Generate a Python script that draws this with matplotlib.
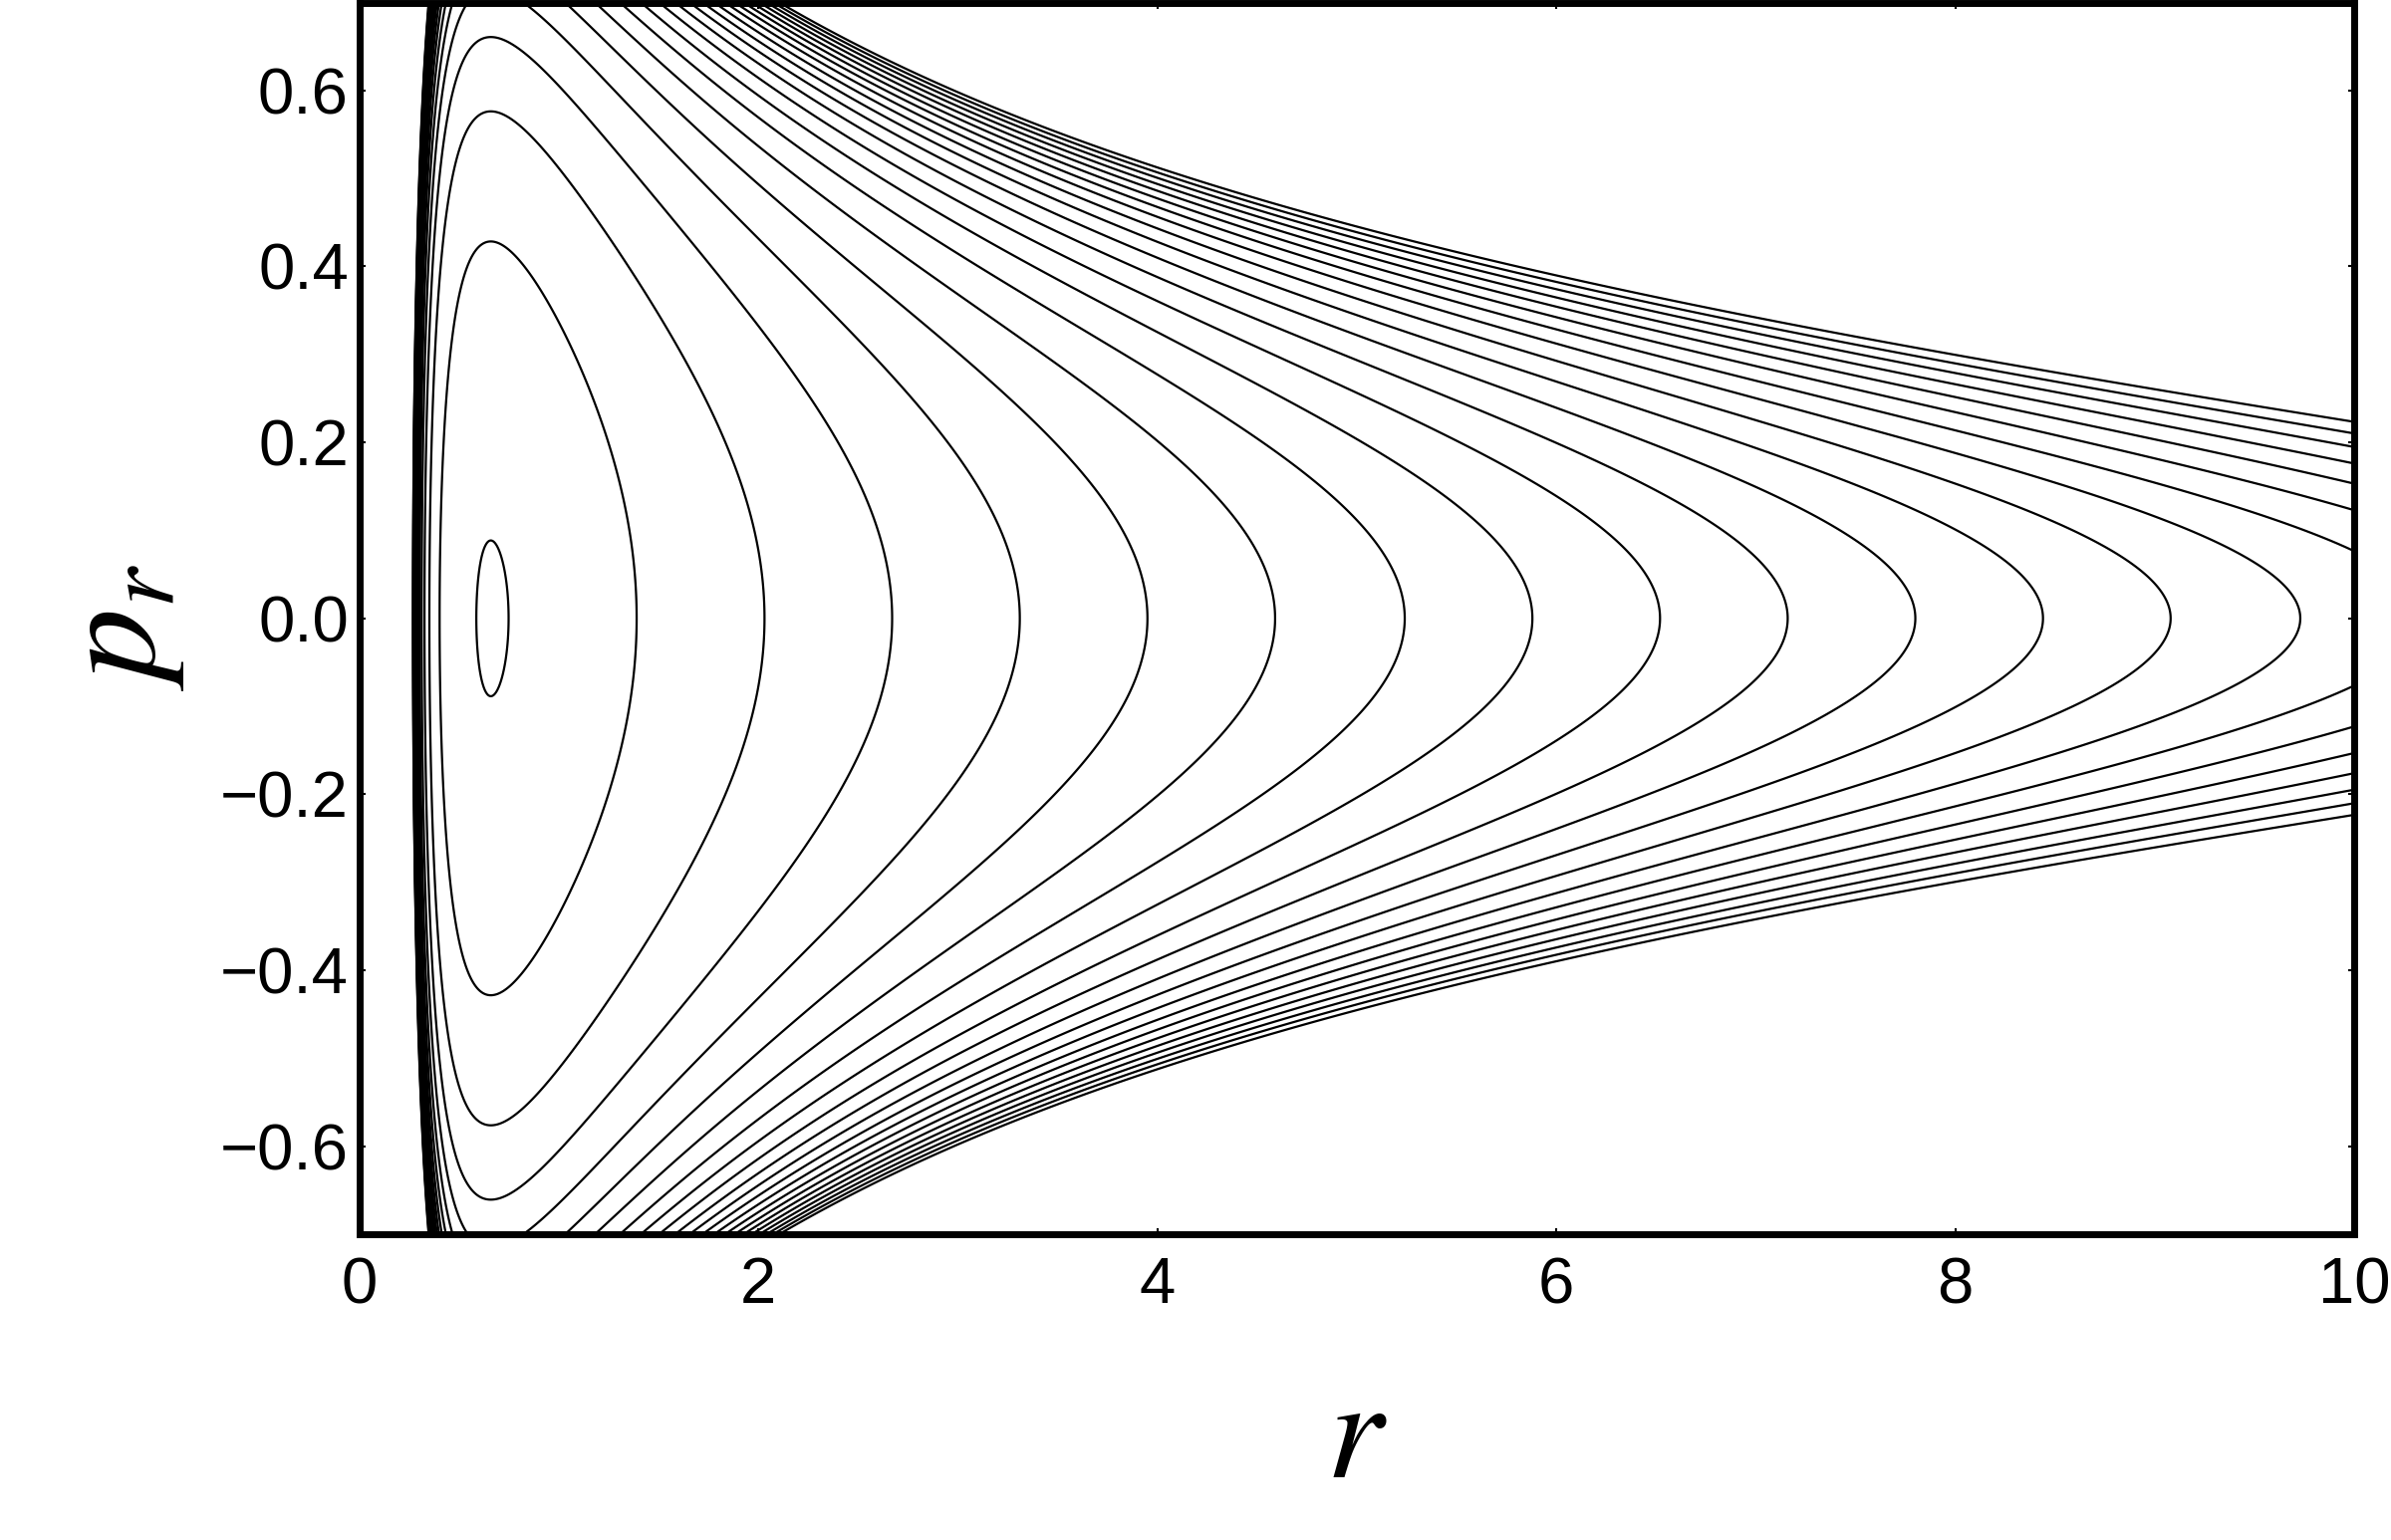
import numpy as np
import matplotlib
matplotlib.use("Agg")
import matplotlib.pyplot as plt

# ---------------- data ----------------
# radii where each contour crosses p_r = 0 (outer turning point)
turning_radii = [0.747, 1.389, 2.03, 2.67, 3.31, 3.95, 4.59, 5.24, 5.88,
                 6.52, 7.16, 7.80, 8.44, 9.08, 9.73, 10.37, 11.01, 11.65,
                 12.29, 12.94, 13.58, 14.22]
# parameters of the effective Hamiltonian H = p^2/2 + L2/(2 r^2) - K/(r + S)
L2 = 0.1036
K = 1.0
S = 1.0

x_ticks = [0, 2, 4, 6, 8, 10]
x_tick_labels = ["0", "2", "4", "6", "8", "10"]
y_ticks = [-0.6, -0.4, -0.2, 0.0, 0.2, 0.4, 0.6]
y_tick_labels = ["\u22120.6", "\u22120.4", "\u22120.2", "0.0", "0.2", "0.4", "0.6"]
x_range = (0, 10)
y_range = (-0.7, 0.7)


def hamiltonian(r, p):
    return 0.5 * p ** 2 + 0.5 * L2 / r ** 2 - K / (r + S)


plt.rcParams["mathtext.fontset"] = "stix"
plt.rcParams["font.family"] = ["Liberation Sans", "DejaVu Sans"]
plt.rcParams["contour.negative_linestyle"] = "solid"

fig = plt.figure(figsize=(24, 15.46), dpi=100)
ax = fig.add_axes([0.1504, 0.19858, 0.83418, 0.7998])

r = np.concatenate([np.linspace(0.15, 1.2, 2600), np.linspace(1.2, 10.1, 2400)[1:]])
p = np.linspace(-0.75, 0.75, 1600)
R, P = np.meshgrid(r, p)
Z = hamiltonian(R, P)
levels = np.sort(hamiltonian(np.array(turning_radii), 0.0))
ax.contour(R, P, Z, levels=levels, colors="black", linewidths=1.6,
           linestyles="solid")

ax.set_xlim(*x_range)
ax.set_ylim(*y_range)
ax.set_xticks(x_ticks)
ax.set_xticklabels(x_tick_labels)
ax.set_yticks(y_ticks)
ax.set_yticklabels(y_tick_labels)
ax.tick_params(axis="both", direction="in", length=4, width=1.5,
               top=True, right=True, labelsize=47)
ax.tick_params(axis="x", pad=16)
ax.tick_params(axis="y", pad=8)
for sp in ax.spines.values():
    sp.set_linewidth(5)

ax.set_xlabel("$r$", fontsize=104, va="center")
ax.xaxis.set_label_coords(0.5, -0.1674)
ax.set_ylabel("$p_r$", fontsize=104, va="center", rotation=90)
ax.yaxis.set_label_coords(-0.1204, 0.4933)

fig.savefig("out.png", dpi=100)
